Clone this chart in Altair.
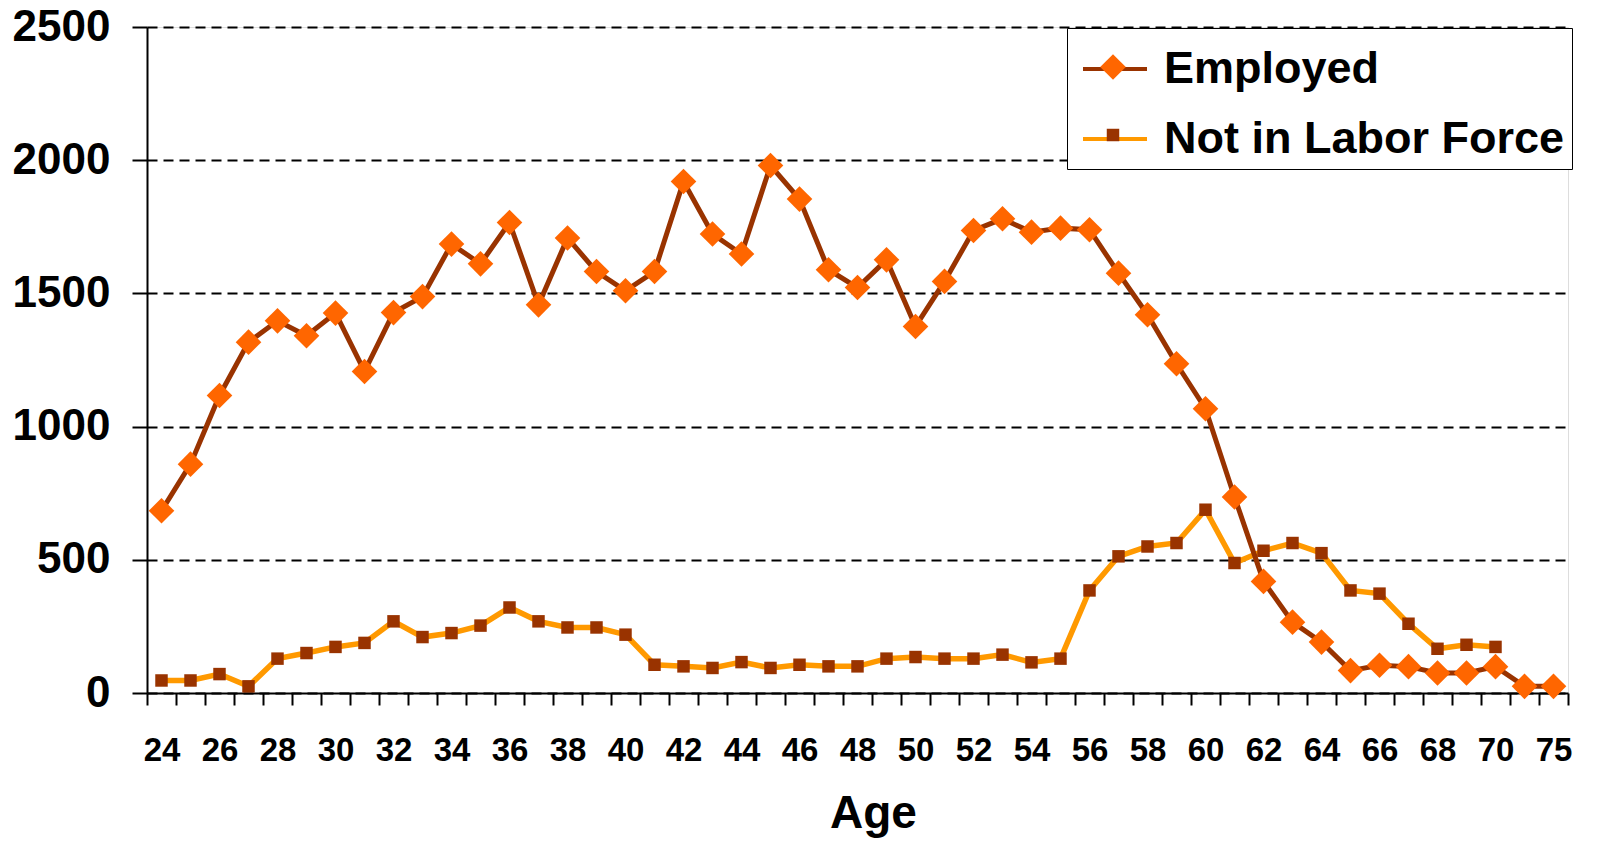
import altair as alt
import pandas as pd

ages = list(range(24, 72)) + [75]
series = ["Employed", "Not in Labor Force"]
employed = [684, 859, 1117, 1317, 1397, 1341, 1426, 1207, 1428, 1488,
            1685, 1611, 1766, 1457, 1708, 1582, 1510, 1582, 1920, 1723,
            1648, 1980, 1854, 1589, 1522, 1626, 1376, 1545, 1736, 1780,
            1730, 1745, 1739, 1576, 1420, 1236, 1067, 736, 419, 266,
            191, 84, 104, 99, 75, 75, 99, 25, 25]
not_in_lf = [47, 47, 71, 25, 129, 150, 173, 188, 269, 210,
             225, 253, 321, 269, 246, 246, 219, 106, 100, 94,
             116, 94, 106, 100, 100, 129, 135, 129, 129, 144,
             115, 129, 385, 513, 550, 563, 688, 488, 534, 563,
             525, 385, 373, 260, 166, 181, 173, None, None]
y_ticks = [0, 500, 1000, 1500, 2000, 2500]

line_colors = ["#993300", "#FF9900"]
marker_colors = ["#FF6600", "#993300"]
marker_shapes = ["M-0.40,0L0,-0.40L0.40,0L0,0.40Z",
                 "M-0.195,-0.195L0.195,-0.195L0.195,0.195L-0.195,0.195Z"]
line_widths = [5, 5.5]
marker_keys = [s + " (marker)" for s in series]

df = pd.DataFrame({
    "Age": ages * 2,
    "Series": [series[0]] * len(ages) + [series[1]] * len(ages),
    "Value": employed + not_in_lf,
})

FONT = "Liberation Sans"

x_enc = alt.X(
    "Age:O",
    scale=alt.Scale(type="band", paddingInner=0, paddingOuter=0),
    axis=alt.Axis(
        title="Age", labelAngle=0, tickBand="extent", labelOverlap=False,
        labelExpr="(datum.value % 2 == 0 || datum.value == 75) ? datum.label : ''",
        labelFont=FONT, labelFontSize=33, labelFontWeight="bold", labelColor="black",
        labelPadding=29, tickSize=12, tickWidth=2, tickColor="black",
        domainColor="black", domainWidth=2, grid=False,
        titleFont=FONT, titleFontSize=46, titleFontWeight="bold", titleColor="black",
        titleX=726, titleAlign="center", titleY=134, titleBaseline="alphabetic",
    ),
)
y_enc = alt.Y(
    "Value:Q",
    scale=alt.Scale(domain=[0, 2500], nice=False),
    axis=alt.Axis(
        title=None, values=y_ticks, format="d", labelFont=FONT, labelFontSize=44,
        labelFontWeight="bold", labelColor="black", labelPadding=22,
        tickSize=15, tickWidth=2, tickColor="black", domainColor="black",
        domainWidth=2, grid=True, gridColor="black", gridDash=[10, 6], gridWidth=2,
    ),
)

line_legend = alt.Legend(
    title=None, orient="none", legendX=920, legendY=1, symbolType="stroke",
    symbolSize=4096, symbolStrokeWidth=4, symbolOffset=7,
    labelFont=FONT, labelFontSize=45, labelFontWeight="bold", labelColor="black",
    labelOffset=15, labelLimit=700, padding=7, rowPadding=13,
    fillColor="white", strokeColor="black", zindex=1,
)
point_legend = alt.Legend(
    title=None, orient="none", legendX=920, legendY=1,
    symbolSize=4096, symbolStrokeWidth=0, symbolOffset=7, symbolOpacity=1,
    labelFont=FONT, labelFontSize=45, labelFontWeight="bold", labelColor="black",
    labelOffset=15, labelLimit=700, padding=7, rowPadding=13,
    labelExpr="''", zindex=2,
)

stroke_enc = alt.Stroke("Series:N", scale=alt.Scale(domain=series, range=line_colors), legend=line_legend)
fill_enc = alt.Fill("Marker:N", scale=alt.Scale(domain=marker_keys, range=marker_colors), legend=point_legend)
shape_enc = alt.Shape("Marker:N", scale=alt.Scale(domain=marker_keys, range=marker_shapes), legend=point_legend)

base = alt.Chart(df)

def line_layer(name, width):
    return base.transform_filter(alt.datum.Series == name).mark_line(
        strokeWidth=width).encode(x=x_enc, y=y_enc, stroke=stroke_enc)

def point_layer(name):
    return base.transform_filter(alt.datum.Series == name).transform_calculate(
        Marker="datum.Series + ' (marker)'").mark_point(
        filled=True, size=4096, opacity=1, strokeWidth=0).encode(
        x=x_enc, y=y_enc, fill=fill_enc, shape=shape_enc)

chart = alt.layer(
    line_layer(series[1], line_widths[1]),
    line_layer(series[0], line_widths[0]),
    point_layer(series[1]),
    point_layer(series[0]),
).properties(
    width=1421, height=666, autosize="none",
    padding={"left": 139, "top": 19, "right": 20, "bottom": 145},
).configure_view(stroke="black", strokeWidth=2).configure(background="white")

chart.save("out.html", embed_options={"renderer": "svg", "actions": False})
